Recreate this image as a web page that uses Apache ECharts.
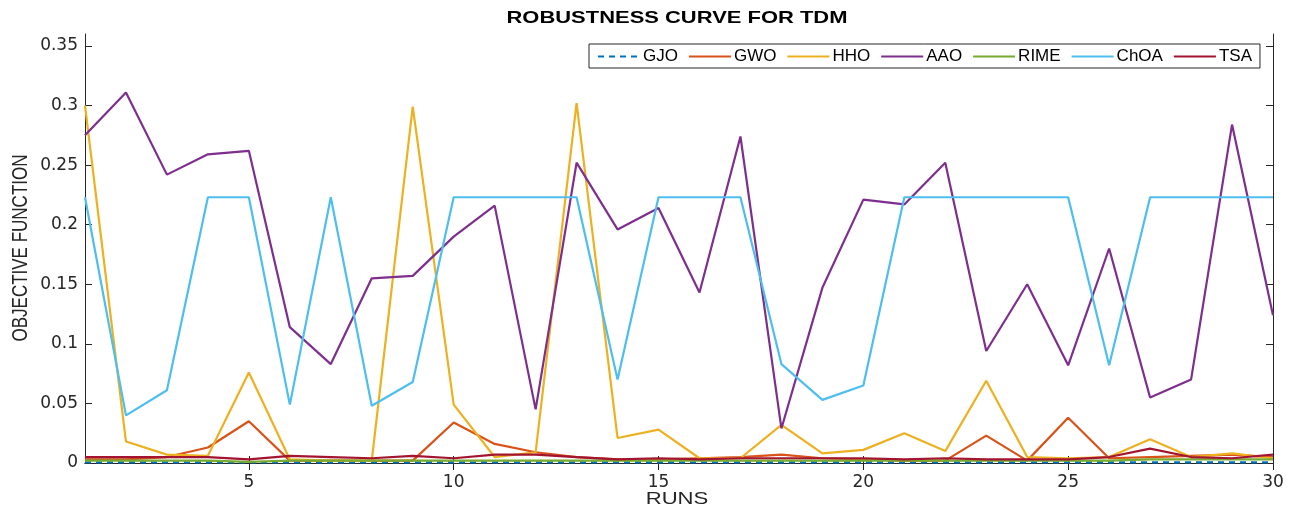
<!DOCTYPE html>
<html><head><meta charset="utf-8">
<script src="https://cdn.jsdelivr.net/npm/echarts@6/dist/echarts.min.js"></script>
<style>html,body{margin:0;padding:0;background:#fff}#c{width:1296px;height:511px}</style>
</head><body><div id="c"></div>
<script>
const runs = Array.from({length:30},(_,i)=>i+1);
const xTicks = [5,10,15,20,25,30];
const yTicks = [0,0.05,0.1,0.15,0.2,0.25,0.3,0.35];
const GJO  = [0.0005,0.0005,0.0005,0.0005,0.0005,0.0005,0.0005,0.0005,0.0005,0.0005,0.0005,0.0005,0.0005,0.0005,0.0005,0.0005,0.0005,0.0005,0.0005,0.0005,0.0005,0.0005,0.0005,0.0005,0.0005,0.0005,0.0005,0.0005,0.0005,0.0005];
const GWO  = [0.003,0.003,0.005,0.013,0.035,0.002,0.002,0.002,0.002,0.034,0.016,0.009,0.005,0.003,0.003,0.004,0.005,0.007,0.004,0.003,0.002,0.002,0.023,0.002,0.038,0.004,0.005,0.006,0.007,0.005];
const HHO  = [0.3,0.018,0.007,0.006,0.076,0.003,0.002,0.002,0.299,0.049,0.005,0.009,0.302,0.021,0.028,0.004,0.004,0.032,0.008,0.011,0.025,0.010,0.069,0.005,0.004,0.005,0.020,0.005,0.008,0.004];
const AAO  = [0.275,0.311,0.242,0.259,0.262,0.114,0.083,0.155,0.157,0.19,0.216,0.045,0.252,0.196,0.214,0.143,0.274,0.029,0.147,0.221,0.217,0.252,0.094,0.15,0.082,0.18,0.055,0.07,0.284,0.124];
const RIME = [0.002,0.002,0.002,0.002,0.001,0.002,0.002,0.002,0.002,0.002,0.002,0.002,0.002,0.002,0.002,0.002,0.002,0.002,0.002,0.002,0.002,0.002,0.002,0.002,0.002,0.002,0.003,0.003,0.003,0.003];
const ChOA = [0.223,0.04,0.061,0.223,0.223,0.049,0.223,0.048,0.068,0.223,0.223,0.223,0.223,0.07,0.223,0.223,0.223,0.083,0.053,0.065,0.223,0.223,0.223,0.223,0.223,0.082,0.223,0.223,0.223,0.223];
const TSA  = [0.005,0.005,0.005,0.005,0.003,0.006,0.005,0.004,0.006,0.004,0.007,0.007,0.005,0.003,0.004,0.003,0.004,0.004,0.004,0.004,0.003,0.004,0.003,0.003,0.003,0.005,0.012,0.005,0.004,0.007];

const names = ['GJO','GWO','HHO','AAO','RIME','ChOA','TSA'];
const datas = [GJO,GWO,HHO,AAO,RIME,ChOA,TSA];
const colors = ['#0072BD','#D95319','#EDB120','#7E2F8E','#77AC30','#4DBEEE','#A2142F'];
const font = 'Liberation Sans, Arial, Helvetica, sans-serif';
const tickFont = 'DejaVu Sans, sans-serif';
const axisLine = {show:true, lineStyle:{color:'#262626', width:1}};

const chart = echarts.init(document.getElementById('c'));
chart.setOption({
  animation:false,
  backgroundColor:'#fff',
  graphic:[
    {type:'text', x:677, y:18, scaleX:1.33, z:100,
      style:{text:'ROBUSTNESS CURVE FOR TDM', fontFamily:font, fontSize:16.5, fontWeight:'bold',
        fill:'#000', align:'center', verticalAlign:'middle'}},
    {type:'text', x:677, y:499, scaleX:1.34, z:100,
      style:{text:'RUNS', fontFamily:font, fontSize:16.5, fill:'#262626', align:'center', verticalAlign:'middle'}},
    {type:'text', x:21, y:248, rotation:Math.PI/2, scaleY:1.25, z:100,
      style:{text:'OBJECTIVE FUNCTION', fontFamily:font, fontSize:17, fill:'#262626', align:'center', verticalAlign:'middle'}}
  ],
  legend:{
    data:names,
    left:589, top:44, height:24,
    itemWidth:42, itemHeight:14, itemGap:10,
    padding:[4,8,3,8],
    itemStyle:{opacity:0},
    borderColor:'#262626', borderWidth:1, backgroundColor:'#fff',
    textStyle:{fontFamily:font, fontSize:17, color:'#000', padding:[0,0,0,-2]}
  },
  grid:{left:85, right:23, top:34, bottom:48, containLabel:false},
  xAxis:[{
    type:'value', min:1, max:30,
    axisLine:axisLine,
    axisTick:{show:true, inside:true, length:7, customValues:xTicks, lineStyle:{color:'#262626'}},
    axisLabel:{fontFamily:tickFont, fontSize:17, color:'#262626', margin:11, customValues:xTicks},
    splitLine:{show:false}
  },{
    type:'value', min:1, max:30, position:'top',
    axisLine:axisLine,
    axisTick:{show:true, inside:true, length:7, customValues:xTicks, lineStyle:{color:'#262626'}},
    axisLabel:{show:false}, splitLine:{show:false}
  }],
  yAxis:[{
    type:'value', min:0, max:0.36,
    axisLine:axisLine,
    axisTick:{show:true, inside:true, length:7, customValues:yTicks, lineStyle:{color:'#262626'}},
    axisLabel:{fontFamily:tickFont, fontSize:17, color:'#262626', margin:7, customValues:yTicks},
    splitLine:{show:false}
  },{
    type:'value', min:0, max:0.36, position:'right',
    axisLine:axisLine,
    axisTick:{show:true, inside:true, length:7, customValues:yTicks, lineStyle:{color:'#262626'}},
    axisLabel:{show:false}, splitLine:{show:false}
  }],
  series: names.map((n,i)=>({
    name:n, type:'line', xAxisIndex:0, yAxisIndex:0,
    data: runs.map((r,k)=>[r, datas[i][k]]),
    showSymbol:false, symbol:'none',
    lineStyle:{color:colors[i], width:2.2, type: i===0 ? [6,5] : 'solid'},
    itemStyle:{color:colors[i]},
    z: 2 + i
  }))
});
</script></body></html>
